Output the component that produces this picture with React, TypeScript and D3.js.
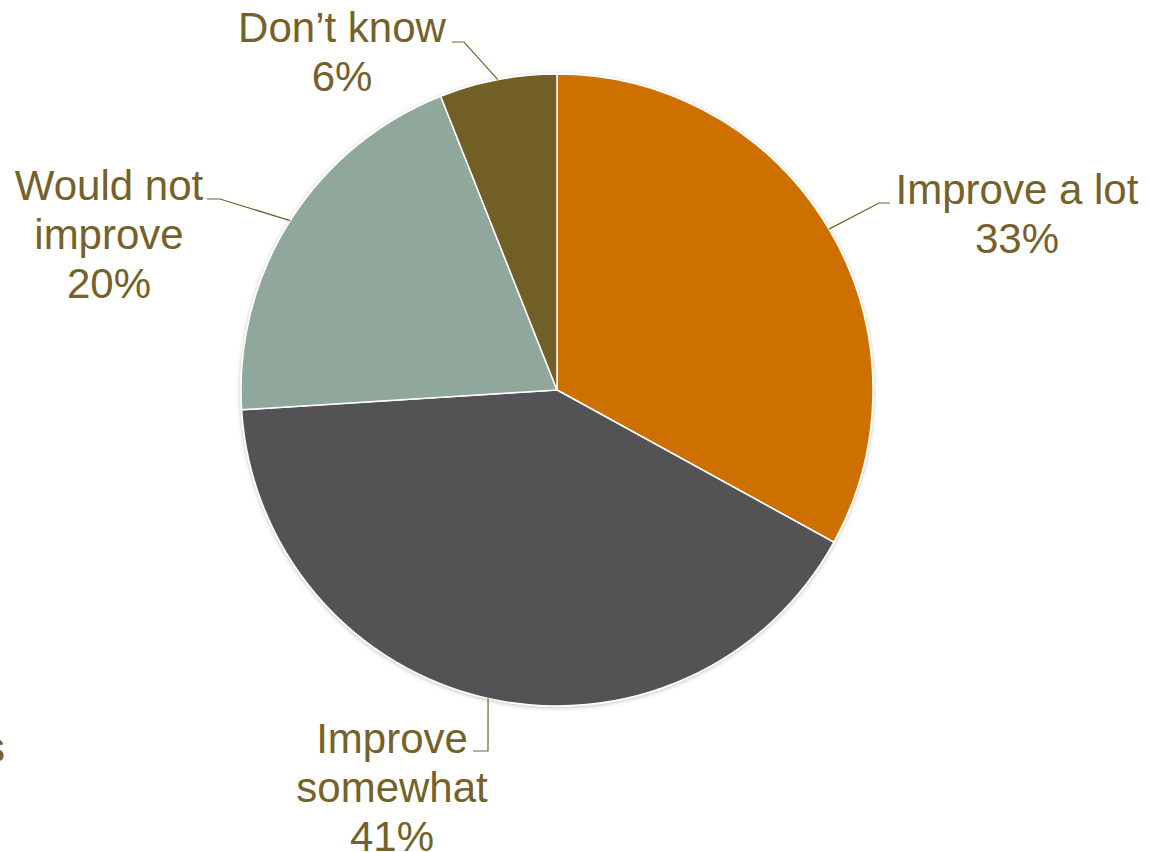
import React from "react";
import * as d3 from "d3";

const categories = ["Improve a lot", "Improve somewhat", "Would not improve", "Don\u2019t know"];
const values = [33, 41, 20, 6];
const labelLines = [["Improve a lot", "33%"], ["Improve", "somewhat", "41%"], ["Would not", "improve", "20%"], ["Don\u2019t know", "6%"]];
const colors = ["#CD7000", "#525254", "#8FA89B", "#715F25"];

const W = 1149, H = 852;
const cx = 557, cy = 390, R = 316;
const textColor = "#74622A";
const fontSize = 42;
const lineH = 49;

// label layout: text center x, first baseline y, elbow point, horizontal end
const labelLayout = [
  { tx: 1017, ty: 204, elbow: [879, 203], end: [890, 203] },
  { tx: 392, ty: 753, elbow: [488, 751], end: [473, 751] },
  { tx: 109, ty: 200, elbow: [220, 199], end: [207, 199] },
  { tx: 342, ty: 42, elbow: [464, 42], end: [452, 42] },
];

export default function App() {
  const pie = d3.pie<number>().value((d) => d).sort(null);
  const arcs = pie(values);
  const arc = d3.arc<d3.PieArcDatum<number>>().innerRadius(0).outerRadius(R);
  return (
    <svg width={W} height={H} style={{ position: "absolute", left: 0, top: 0, background: "#fff" }}
      fontFamily="'Liberation Sans', Arial, sans-serif">
      <defs>
        <filter id="sh" x="-10%" y="-10%" width="120%" height="120%">
          <feDropShadow dx="0" dy="1" stdDeviation="2" floodColor="#000" floodOpacity="0.25" />
        </filter>
      </defs>
      <g transform={`translate(${cx},${cy})`} filter="url(#sh)">
        {arcs.map((a, i) => (
          <path key={categories[i]} d={arc(a) || ""} fill={colors[i]} stroke="#fff" strokeWidth={1.5} strokeLinejoin="round" />
        ))}
      </g>
      {arcs.map((a, i) => {
        const mid = (a.startAngle + a.endAngle) / 2;
        const sx = cx + R * Math.sin(mid);
        const sy = cy - R * Math.cos(mid);
        const L = labelLayout[i];
        return (
          <g key={"l" + i}>
            <polyline points={`${sx},${sy} ${L.elbow[0]},${L.elbow[1]} ${L.end[0]},${L.end[1]}`}
              fill="none" stroke={textColor} strokeWidth={1.2} />
            <text x={L.tx} y={L.ty} textAnchor="middle" fill={textColor} fontSize={fontSize}>
              {labelLines[i].map((t, j) => (
                <tspan key={j} x={L.tx} y={L.ty + j * lineH}>{t}</tspan>
              ))}
            </text>
          </g>
        );
      })}
      <text x={-16} y={762} fill={textColor} fontSize={fontSize}>s</text>
    </svg>
  );
}
